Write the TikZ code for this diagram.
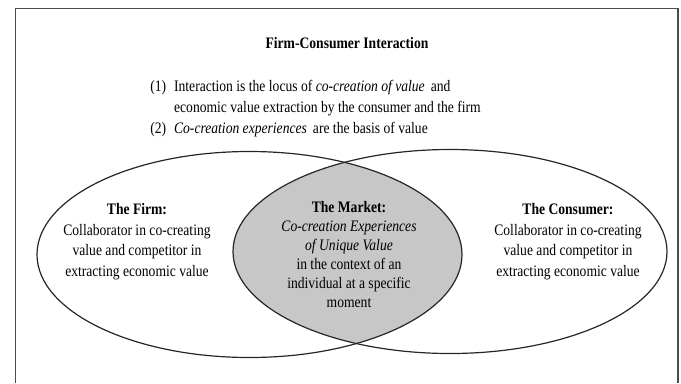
\documentclass[tikz,border=0pt]{standalone}
\usepackage{fontspec}
\setmainfont[FakeStretch=0.85]{Liberation Serif}
\begin{document}
\begin{tikzpicture}[x=0.75pt, y=-0.75pt,
    every node/.style={font=\fontsize{12}{15.5}\selectfont, inner sep=0pt}]
    \tikzset{
        frameline/.style={line width=1.2pt, draw=black!70},
        setline/.style={line width=0.9pt, draw=black!85},
        lensfill/.style={fill=black!22},
        head/.style={font=\fontsize{12}{15.5}\selectfont\bfseries},
        block/.style={align=center, anchor=north}
    }
    \useasboundingbox (0,0) rectangle (681,383);
    % frame, open at the bottom
    \draw[frameline] (15.5,383) -- (15.5,8.5) -- (678,8.5) -- (678,383);
    % shaded overlap of the two sets
    \begin{scope}
        \clip (249.5,254.5) ellipse [x radius=212.5, y radius=103];
        \fill[lensfill] (450,251.5) ellipse [x radius=217, y radius=102];
    \end{scope}
    \draw[setline] (249.5,254.5) ellipse [x radius=212.5, y radius=103];
    \draw[setline] (450,251.5) ellipse [x radius=217, y radius=102];
    % heading and the two points
    \node[head, anchor=north] (title) at (347,37) {Firm-Consumer Interaction};
    \node[anchor=north west] (points) at (150,77) {%
        \begin{tabular}{@{}l@{\hspace{6pt}}l@{}}
        (1) & Interaction is the locus of \textit{co-creation of value}\, and\\
            & economic value extraction by the consumer and the firm\\
        (2) & \textit{Co-creation experiences}\, are the basis of value
        \end{tabular}};
    % set labels
    \node[block] (firm) at (137,203) {\textbf{The Firm:}\\Collaborator in co-creating\\value and competitor in\\extracting economic value};
    \node[block, font=\fontsize{12}{14.3}\selectfont] (market) at (349,201) {\textbf{The Market:}\\\textit{Co-creation Experiences}\\\textit{of Unique Value}\\in the context of an\\individual at a specific\\moment};
    \node[block] (consumer) at (568,203) {\textbf{The Consumer:}\\Collaborator in co-creating\\value and competitor in\\extracting economic value};
\end{tikzpicture}
\end{document}
